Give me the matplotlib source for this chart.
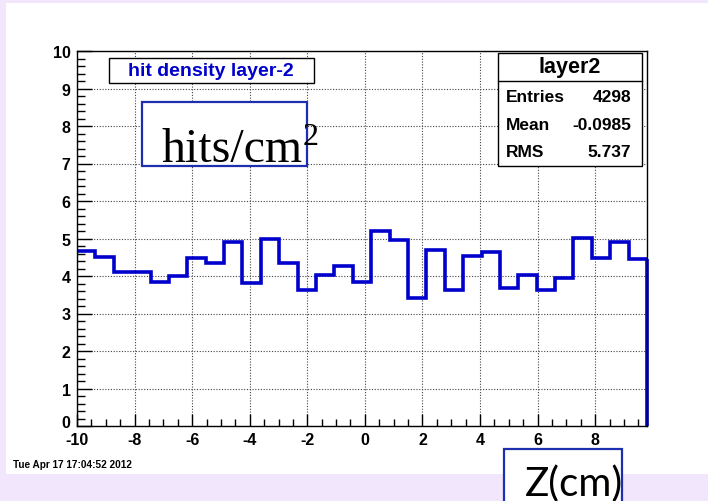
import numpy as np
import matplotlib.pyplot as plt
from matplotlib.patches import Rectangle
from matplotlib.ticker import MultipleLocator
from matplotlib.transforms import offset_copy

# histogram "layer2": 31 bins from -10 to 9.8
bin_edges = np.linspace(-10, 9.8, 32)
hit_density = [4.66, 4.52, 4.12, 4.10, 3.85, 3.99, 4.47, 4.35, 4.92, 3.81,
               5.00, 4.36, 3.64, 4.04, 4.28, 3.85, 5.21, 4.97, 3.42, 4.70,
               3.64, 4.54, 4.65, 3.67, 4.04, 3.64, 3.96, 5.01, 4.47, 4.92, 4.45]
x_ticks = [-10, -8, -6, -4, -2, 0, 2, 4, 6, 8]
y_ticks = list(range(0, 11))
stats_labels = ['Entries', 'Mean', 'RMS']
stats_values = ['4298', '-0.0985', '5.737']

W, H = 708, 502
LAVENDER = '#f1e6fb'
BLUE = '#0000cc'
SANS = 'Liberation Sans'

plt.rcParams['axes.unicode_minus'] = False


def fx(x):
    return x / W


def fy(y):
    return 1 - y / H


fig = plt.figure(figsize=(W / 100, H / 100), dpi=100)
fig.patch.set_facecolor(LAVENDER)

# white canvas panel
fig.patches.append(Rectangle((fx(6), fy(475)), fx(702), 471 / H, transform=fig.transFigure,
                             facecolor='white', edgecolor='none', zorder=-5))

ax = fig.add_axes([fx(77), fy(427), 570 / W, 375 / H])
ax.set_zorder(1)
ax.stairs(hit_density, bin_edges, baseline=None, color=BLUE, linewidth=2.6)
ax.vlines(bin_edges[-1], 0, hit_density[-1], color=BLUE, linewidth=2.6, clip_on=False)

ax.set_xlim(bin_edges[0], bin_edges[-1])
ax.set_ylim(0, 10)
ax.set_xticks(x_ticks)
ax.set_yticks(y_ticks)
ax.xaxis.set_minor_locator(MultipleLocator(0.5))
ax.yaxis.set_minor_locator(MultipleLocator(0.2))
ax.tick_params(which='both', direction='in', top=False, right=False, width=1, color='black')
ax.tick_params(axis='x', which='major', length=8.5, pad=4.5)
ax.tick_params(axis='x', which='minor', length=5)
ax.tick_params(axis='y', which='major', length=10.5, pad=4.5)
ax.tick_params(axis='y', which='minor', length=5.5)
for lab in ax.get_xticklabels() + ax.get_yticklabels():
    lab.set_fontfamily(SANS)
    lab.set_fontweight('bold')
    lab.set_fontsize(11.5)
# ROOT puts the "0" slightly above the corner so it clears the x labels
zero_lab = ax.yaxis.get_major_ticks()[0].label1
zero_lab.set_transform(offset_copy(zero_lab.get_transform(), fig, x=0, y=5, units='dots'))
ax.grid(True, which='major', color='#444444', linestyle=(0, (1, 1.5)), linewidth=0.8)
ax.set_axisbelow(True)
for sp in ax.spines.values():
    sp.set_linewidth(1)
    sp.set_zorder(3)

# title box
fig.patches.append(Rectangle((fx(109), fy(84)), 205 / W, 25 / H, transform=fig.transFigure,
                             facecolor='white', edgecolor='black', linewidth=1, zorder=5))
fig.text(fx(211), fy(71.5), 'hit density layer-2', color=BLUE, fontfamily=SANS,
         fontweight='bold', fontsize=14, ha='center', va='center', zorder=6)

# stats box
fig.patches.append(Rectangle((fx(498), fy(167)), 144 / W, 113 / H, transform=fig.transFigure,
                             facecolor='white', edgecolor='black', linewidth=1, zorder=5))
fig.lines.append(plt.Line2D([fx(498), fx(642)], [fy(82), fy(82)], transform=fig.transFigure,
                            color='black', linewidth=1, zorder=6))
fig.text(fx(570), fy(68), 'layer2', fontfamily=SANS, fontweight='bold', fontsize=15.5,
         ha='center', va='center', zorder=6)
for i, (lbl, val) in enumerate(zip(stats_labels, stats_values)):
    yy = fy(97 + 28 * i)
    fig.text(fx(506), yy, lbl, fontfamily=SANS, fontweight='bold', fontsize=12.5,
             ha='left', va='center', zorder=6)
    fig.text(fx(631), yy, val, fontfamily=SANS, fontweight='bold', fontsize=12.5,
             ha='right', va='center', zorder=6)

# y axis label box
fig.patches.append(Rectangle((fx(142), fy(167)), 165 / W, 64 / H, transform=fig.transFigure,
                             facecolor='white', edgecolor='#1c2fb0', linewidth=1.6, zorder=5))
fig.text(fx(162), fy(162), 'hits/cm', fontfamily='Liberation Serif', fontsize=34.5,
         ha='left', va='baseline', zorder=6)
fig.text(fx(303), fy(145), '2', fontfamily='Liberation Serif', fontsize=23,
         ha='left', va='baseline', zorder=6)

# x axis label box
fig.patches.append(Rectangle((fx(504), fy(505)), 118 / W, 55 / H, transform=fig.transFigure,
                             facecolor='white', edgecolor='#1c2fb0', linewidth=1.6, zorder=5))
fig.text(fx(525), fy(496), 'Z(cm)', fontfamily='Lato', fontsize=29,
         ha='left', va='baseline', zorder=6)

# date stamp
fig.text(fx(13), fy(465), 'Tue Apr 17 17:04:52 2012', fontfamily=SANS, fontweight='bold',
         fontsize=7.2, ha='left', va='center')

fig.savefig('out.png', dpi=100, facecolor=fig.get_facecolor())
